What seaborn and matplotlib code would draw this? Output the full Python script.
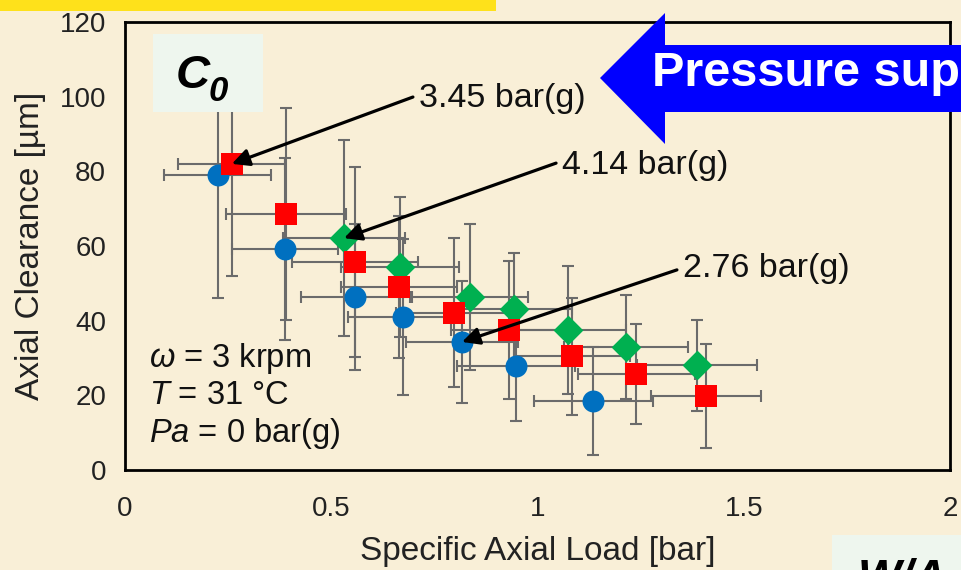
import matplotlib
matplotlib.use("Agg")
import matplotlib.pyplot as plt
from matplotlib.patches import Polygon, Rectangle
import seaborn as sns
import pandas as pd

# ---------------- data ----------------
blue_x = [0.225, 0.388, 0.558, 0.674, 0.817, 0.948, 1.135]
blue_y = [79.0, 59.2, 46.3, 41.0, 34.3, 27.9, 18.5]
blue_xerr = [0.130, 0.128, 0.132, 0.134, 0.136, 0.142, 0.144]
blue_yerr = [33.0, 24.4, 19.5, 21.0, 16.3, 14.8, 14.5]

red_x = [0.259, 0.390, 0.558, 0.664, 0.798, 0.931, 1.084, 1.239, 1.408]
red_y = [82.0, 68.6, 55.7, 49.0, 42.1, 37.5, 30.5, 25.7, 19.8]
red_xerr = [0.130, 0.145, 0.152, 0.140, 0.140, 0.140, 0.140, 0.142, 0.133]
red_yerr = [30.0, 28.4, 25.5, 19.0, 20.0, 18.4, 15.7, 13.4, 13.9]

green_x = [0.531, 0.667, 0.836, 0.943, 1.074, 1.215, 1.387]
green_y = [62.1, 54.4, 46.3, 43.1, 37.5, 32.9, 28.1]
green_xerr = [0.148, 0.143, 0.140, 0.140, 0.140, 0.150, 0.146]
green_yerr = [26.2, 18.8, 19.6, 15.0, 17.2, 14.0, 12.2]

series_labels = ["2.76 bar(g)", "3.45 bar(g)", "4.14 bar(g)"]
x_ticks = [0, 0.5, 1, 1.5, 2]
x_tick_labels = ["0", "0.5", "1", "1.5", "2"]
y_ticks = [0, 20, 40, 60, 80, 100, 120]
conditions = [r"$\omega$ = 3 krpm", r"$T$ = 31 °C", r"$Pa$ = 0 bar(g)"]

# ---------------- style ----------------
sns.set_style("white")
plt.rcParams["font.family"] = ["Liberation Sans", "DejaVu Sans"]
plt.rcParams["mathtext.fontset"] = "custom"
plt.rcParams["mathtext.rm"] = "Liberation Sans"
plt.rcParams["mathtext.it"] = "Liberation Sans:italic"
plt.rcParams["mathtext.bf"] = "Liberation Sans:bold"

BG = "#F9EFD7"
C_BLUE = "#0070C0"
C_RED = "#FF0000"
C_GREEN = "#00B050"
C_ERR = "#6b6b6b"

W, H = 961, 570
fig = plt.figure(figsize=(W / 100, H / 100), dpi=100, facecolor=BG)
ax = fig.add_axes([125 / W, 1 - 470 / H, (950 - 125) / W, (470 - 22) / H])
ax.set_facecolor(BG)

df = pd.concat([
    pd.DataFrame({"x": blue_x, "y": blue_y, "xerr": blue_xerr, "yerr": blue_yerr, "s": series_labels[0]}),
    pd.DataFrame({"x": green_x, "y": green_y, "xerr": green_xerr, "yerr": green_yerr, "s": series_labels[2]}),
    pd.DataFrame({"x": red_x, "y": red_y, "xerr": red_xerr, "yerr": red_yerr, "s": series_labels[1]}),
], ignore_index=True)

# error bars
ax.errorbar(df["x"], df["y"], xerr=df["xerr"], yerr=df["yerr"], fmt="none",
            ecolor=C_ERR, elinewidth=1.5, capsize=4.5, capthick=1.5, zorder=2)

# markers
sizes = {series_labels[0]: 250, series_labels[1]: 270, series_labels[2]: 230}
mk = {series_labels[0]: "o", series_labels[1]: "s", series_labels[2]: "D"}
pal = {series_labels[0]: C_BLUE, series_labels[1]: C_RED, series_labels[2]: C_GREEN}
for lab in [series_labels[0], series_labels[2], series_labels[1]]:
    sub = df[df["s"] == lab]
    sns.scatterplot(data=sub, x="x", y="y", marker=mk[lab], color=pal[lab],
                    s=sizes[lab], linewidth=0, ax=ax, zorder=3, legend=False)

ax.set_xlim(0, 2)
ax.set_ylim(0, 120)
ax.set_xticks(x_ticks)
ax.set_xticklabels(x_tick_labels)
ax.set_yticks(y_ticks)
ax.tick_params(axis="both", direction="inout", length=9, width=2, labelsize=20,
               colors="black", labelcolor="#222222", pad=9)
ax.tick_params(axis="x", pad=14)
for sp in ax.spines.values():
    sp.set_visible(True)
    sp.set_color("black")
    sp.set_linewidth(2.0)

ax.set_xlabel("Specific Axial Load [bar]", fontsize=24, color="#222222", labelpad=10)
ax.set_ylabel("Axial Clearance [µm]", fontsize=24, color="#222222", labelpad=10)

# annotations
def annot(label, tip, tail, text_pos):
    ax.annotate("", xy=tip, xytext=tail,
                arrowprops=dict(arrowstyle="-|>", lw=2.3, color="black",
                                mutation_scale=26, shrinkA=0, shrinkB=0), zorder=5)
    ax.text(text_pos[0], text_pos[1], label, fontsize=24.5, color="#111111",
            ha="left", va="center", zorder=5)

annot(series_labels[1], (red_x[0], red_y[0]), (0.698, 99.9), (0.712, 99.6))
annot(series_labels[2], (green_x[0], green_y[0]), (1.045, 82.2), (1.060, 81.6))
annot(series_labels[0], (blue_x[4], blue_y[4]), (1.338, 53.6), (1.352, 54.0))

# condition text
for i, t in enumerate(conditions):
    ax.text(0.058, 30.0 - i * 10.1, t, fontsize=23.5, color="#111111", ha="left", va="center")

# C0 box (figure pixel coords)
def fx(px):
    return px / W

def fy(py):
    return 1 - py / H

fig.patches.append(Rectangle((fx(153), fy(112)), fx(263) - fx(153), fy(34) - fy(112),
                             transform=fig.transFigure, facecolor="#EEF6EE", edgecolor="none", zorder=4))
fig.text(fx(176), fy(76), "C", fontsize=34, fontweight="bold", fontstyle="italic",
         color="black", ha="left", va="center", zorder=6)
fig.text(fx(209), fy(91), "0", fontsize=25, fontweight="bold", fontstyle="italic",
         color="black", ha="left", va="center", zorder=6)

# yellow title band (cut off at top)
fig.patches.append(Rectangle((0, fy(11)), fx(496), fy(0) - fy(11),
                             transform=fig.transFigure, facecolor="#FEE11B", edgecolor="none", zorder=4))

# blue arrow "Pressure supply"
arrow_pts = [(600, 78), (665, 13), (665, 45), (975, 45), (975, 112), (665, 112), (665, 144)]
fig.patches.append(Polygon([(fx(a), fy(b)) for a, b in arrow_pts], closed=True,
                           transform=fig.transFigure, facecolor="#0000FF", edgecolor="none", zorder=4))
fig.text(fx(652), fy(73), "Pressure supply", fontsize=35, fontweight="bold", color="white",
         ha="left", va="center", zorder=6)

# W/A box bottom right
fig.patches.append(Rectangle((fx(832), fy(575)), fx(975) - fx(832), fy(535) - fy(575),
                             transform=fig.transFigure, facecolor="#EEF6EE", edgecolor="none", zorder=4))
fig.text(fx(858), fy(557), "W/A", fontsize=33, fontweight="bold", fontstyle="italic",
         color="black", ha="left", va="top", zorder=6)

fig.savefig("out.png", dpi=100, facecolor=BG)
